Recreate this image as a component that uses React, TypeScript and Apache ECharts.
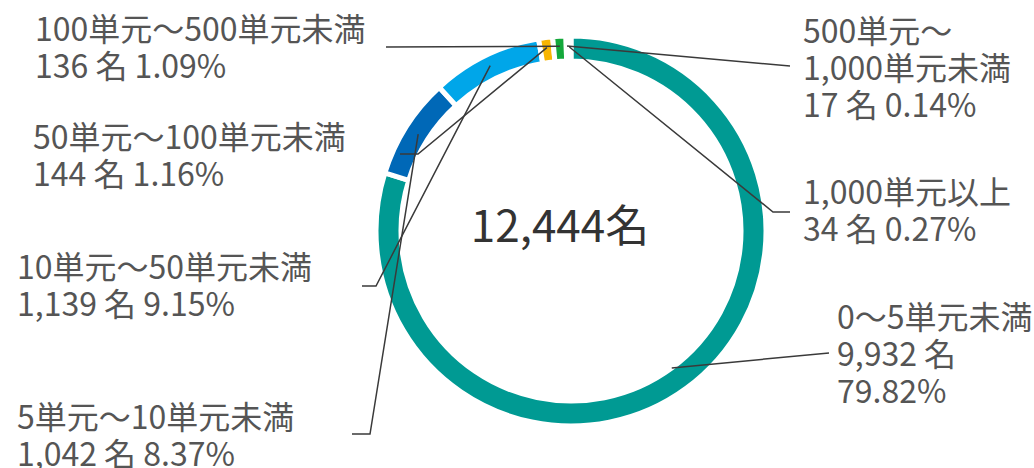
import React, { useEffect, useRef } from "react";
import * as echarts from "echarts";

const categories = [
  "0～5単元未満",
  "5単元～10単元未満",
  "10単元～50単元未満",
  "50単元～100単元未満",
  "100単元～500単元未満",
  "500単元～\n1,000単元未満",
  "1,000単元以上",
];
const counts = [9932, 1042, 1139, 144, 136, 17, 34];
const percents = ["79.82", "8.37", "9.15", "1.16", "1.09", "0.14", "0.27"];
const totalLabel = "12,444名";
const colors = ["#009a93", "#0068b7", "#00a6e9", "#f8b500", "#14a83b", "#e60012", "#8fc31f"];

// layout (pixel) settings for labels
const CX = 571;
const CY = 231;
const LABEL_LAYOUT = [
  { x: 837, y: 296, anchorR: 170, elbow: [829, 353], end: [829, 353] },
  { x: 17, y: 396, anchorR: 181, elbow: [370, 434], end: [352, 434] },
  { x: 17, y: 246, anchorR: 184, elbow: [376, 286], end: [362, 286] },
  { x: 33, y: 116, anchorR: 185, elbow: [418, 154], end: [400, 154] },
  { x: 35, y: 8, anchorR: 185, elbow: [386, 47], end: [386, 47] },
  { x: 803, y: 10, anchorR: 185, elbow: [790, 66], end: [790, 66] },
  { x: 803, y: 171, anchorR: 184, elbow: [773, 212], end: [790, 212] },
];

function fmt(n: number) {
  return n.toLocaleString("en-US");
}

export default function App() {
  const ref = useRef<HTMLDivElement>(null);
  useEffect(() => {
    if (!ref.current) return;
    const chart = echarts.init(ref.current, undefined, { renderer: "svg" });
    const sum = counts.reduce((a, b) => a + b, 0);
    const mids: number[] = [];
    let acc = 0;
    counts.forEach((c) => {
      const a = (c / sum) * 360;
      mids.push(acc + a / 2);
      acc += a;
    });
    const ringData = categories.map((name, i) => ({
      name,
      value: counts[i],
      itemStyle: { color: colors[i] },
    }));
    const labelData = categories.map((name, i) => ({ name, value: counts[i] }));
    chart.setOption({
      animation: false,
      backgroundColor: "#ffffff",
      graphic: [
        {
          type: "text",
          x: 560,
          y: 223,
          style: {
            text: totalLabel,
            fontSize: 44,
            fontFamily: "Noto Sans CJK JP",
            fill: "#333333",
            textAlign: "center",
            textVerticalAlign: "middle",
          },
        },
      ],
      series: [
        {
          type: "pie",
          z: 2,
          center: [CX, CY],
          radius: [170, 195],
          startAngle: 90,
          clockwise: true,
          silent: true,
          itemStyle: { borderColor: "#ffffff", borderWidth: 5 },
          emphasis: { disabled: true },
          label: { show: false },
          labelLine: { show: false },
          data: ringData,
        },
        {
          type: "pie",
          z: 5,
          center: [CX, CY],
          radius: [170, 195],
          startAngle: 90,
          clockwise: true,
          silent: true,
          avoidLabelOverlap: false,
          itemStyle: { color: "rgba(0,0,0,0)", borderWidth: 0 },
          emphasis: { disabled: true },
          label: {
            show: true,
            position: "outside",
            fontSize: 32,
            lineHeight: 37,
            color: "#555555",
            fontFamily: "Noto Sans CJK JP",
            formatter: (p: any) => {
              const i = p.dataIndex;
              if (i === 0) return `${categories[i]}\n${fmt(counts[i])} 名\n${percents[i]}%`;
              return `${categories[i]}\n${fmt(counts[i])} 名 ${percents[i]}%`;
            },
          },
          labelLine: {
            show: true,
            showAbove: true,
            lineStyle: { color: "#3a3a3a", width: 1.5 },
          },
          labelLayout: (params: any) => {
            const i = params.dataIndex;
            const L = LABEL_LAYOUT[i];
            const t = (mids[i] * Math.PI) / 180;
            const ax = CX + L.anchorR * Math.sin(t);
            const ay = CY - L.anchorR * Math.cos(t);
            return {
              x: L.x,
              y: L.y,
              align: "left",
              verticalAlign: "top",
              labelLinePoints: [[ax, ay], L.elbow, L.end],
            };
          },
          data: labelData,
        },
      ],
    });
    return () => chart.dispose();
  }, []);
  return (
    <div
      ref={ref}
      style={{ position: "absolute", left: 0, top: 0, width: 1034, height: 468 }}
    />
  );
}
